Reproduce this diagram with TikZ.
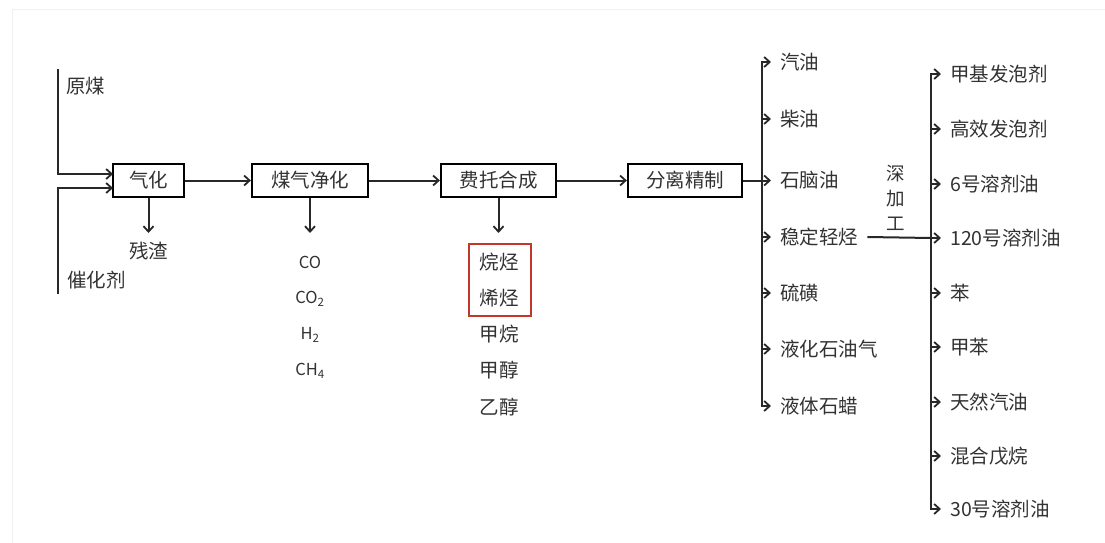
\documentclass[tikz,border=0pt]{standalone}
\usepackage{fontspec}
\setmainfont{Noto Sans CJK SC}
\usetikzlibrary{arrows.meta}
\definecolor{ln}{RGB}{40,40,40}
\definecolor{tx}{RGB}{50,50,50}
\definecolor{rd}{RGB}{192,57,43}
\tikzset{
  arr/.style={draw=ln, line width=2pt, -{Straight Barb[length=5.5pt,width=10pt,line width=1.8pt]}},
  plain/.style={draw=ln, line width=2pt},
  box/.style={draw=black, line width=2.2pt, minimum height=33pt, inner sep=0pt, text=tx, font=\fontsize{19.5}{22}\selectfont},
  lab/.style={text=tx, inner sep=0pt, font=\fontsize{19.5}{22}\selectfont},
  item/.style={text=tx, anchor=west, inner xsep=9pt, inner ysep=2pt, font=\fontsize{19.5}{22}\selectfont},
  gas/.style={text=tx, inner sep=0pt, font=\fontsize{16.5}{18}\selectfont},
}
\begin{document}
\begin{tikzpicture}[x=1pt,y=-1pt]
\useasboundingbox (0,0) rectangle (1105,543);
% faint frame
\draw[gray!12, line width=1pt] (12,543) -- (12,10) -- (1105,10);

% process boxes
\node[box, minimum width=71pt] (qh) at (148.5,180.5) {气化};
\node[box, minimum width=116pt] (mq) at (310,180.5) {煤气净化};
\node[box, minimum width=115pt] (ft) at (498.5,180.5) {费托合成};
\node[box, minimum width=114pt] (fl) at (685,180.5) {分离精制};

% inputs
\node[lab, anchor=west] (ym) at (66,86) {原煤};
\node[lab, anchor=west] (ch) at (67,280) {催化剂};
\coordinate (ymt) at (58,69);
\coordinate (chb) at (58,294);
\coordinate (in1) at (113,174);
\coordinate (in2) at (113,188);
\draw[arr] (ymt) |- (in1);
\draw[arr] (chb) |- (in2);

% main line
\draw[arr] (qh) -- (mq);
\draw[arr] (mq) -- (ft);
\draw[arr] (ft) -- (fl);

% residue
\node[lab] (cz) at (148.5,251) {残渣};
\coordinate (czt) at (148.5,233);
\draw[arr] (qh.south) -- (czt);

% gases
\coordinate (gst) at (310,233);
\draw[arr] (mq.south) -- (gst);
\node[gas] (co) at (310,262) {CO};
\node[gas] (co2) at (310,299) {CO\textsubscript{2}};
\node[gas] (h2) at (310,335) {H\textsubscript{2}};
\node[gas] (ch4) at (310,371) {CH\textsubscript{4}};

% FT products
\coordinate (ftt) at (498.5,233);
\draw[arr] (ft.south) -- (ftt);
\node[lab] (wt) at (499,262) {烷烃};
\node[lab] (xt) at (499,298) {烯烃};
\draw[rd, line width=2pt] (469,244) rectangle (531,316);
\node[lab] (jw) at (499,334) {甲烷};
\node[lab] (jc) at (499,370) {甲醇};
\node[lab] (yc) at (499,407) {乙醇};

% separation products
\coordinate (t1) at (762,180.5);
\draw[plain] (fl.east) -- (t1);
\node[item] (qy) at (771,62) {汽油};
\node[item] (cy) at (771,119) {柴油};
\node[item] (sn) at (771,180.5) {石脑油};
\node[item] (wd) at (771,237) {稳定轻烃};
\node[item] (lh) at (771,293) {硫磺};
\node[item] (yh) at (771,349) {液化石油气};
\node[item] (yt) at (771,406) {液体石蜡};
\foreach \n in {qy,cy,sn,wd,lh,yh,yt}{
  \draw[arr, line join=miter] (t1) |- (\n.west);
}

% deep processing
\node[text=tx, inner sep=0pt, align=center, font=\fontsize{18.5}{25}\selectfont] (sj) at (896,198) {深\\加\\工};
\coordinate (t2) at (931,238);
\node[item] (r1) at (941,74) {甲基发泡剂};
\node[item] (r2) at (941,129) {高效发泡剂};
\node[item] (r3) at (941,184) {6号溶剂油};
\node[item] (r4) at (941,238) {120号溶剂油};
\node[item] (r5) at (941,293) {苯};
\node[item] (r6) at (941,347) {甲苯};
\node[item] (r7) at (941,402) {天然汽油};
\node[item] (r8) at (941,456) {混合戊烷};
\node[item] (r9) at (941,509) {30号溶剂油};
\draw[plain] (wd.east) -- (t2);
\foreach \n in {r1,r2,r3,r4,r5,r6,r7,r8,r9}{
  \draw[arr, line join=miter] (t2) |- (\n.west);
}
\end{tikzpicture}
\end{document}
